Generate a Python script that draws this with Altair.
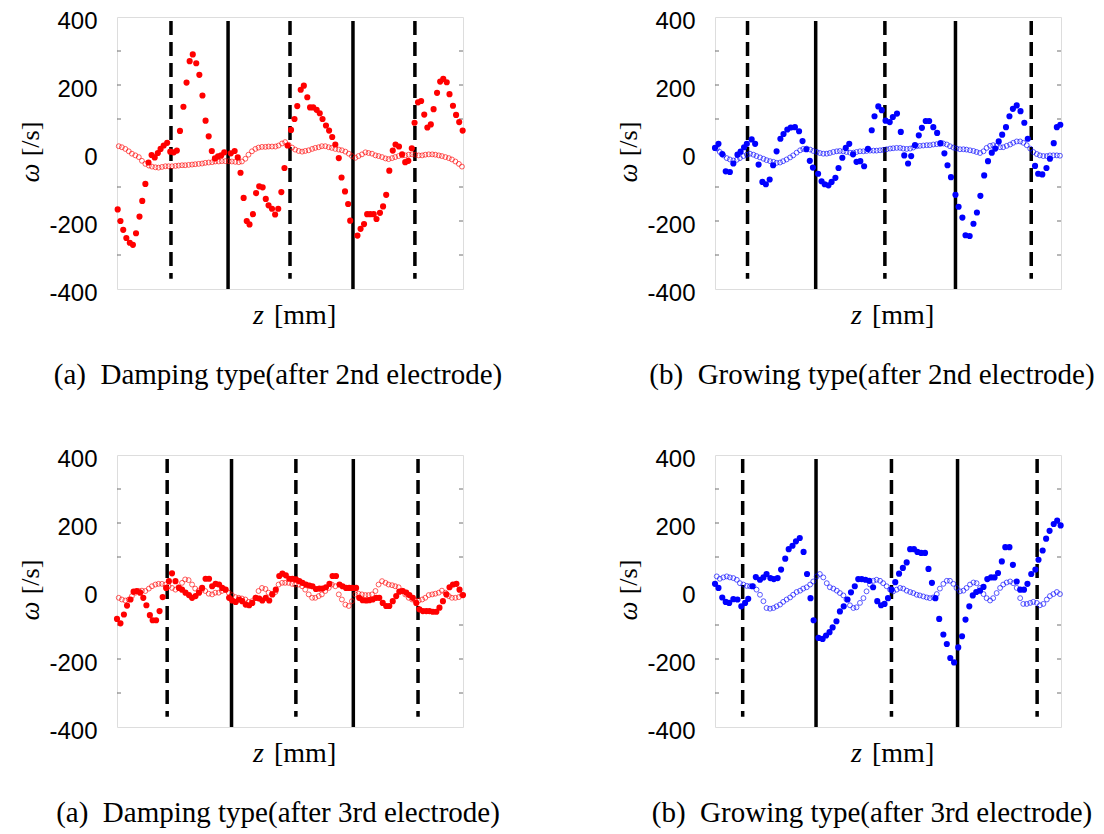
import altair as alt
import pandas as pd

# ---------------- data ----------------
# common z grid for the open-circle series
z_open = [0.5, 1.4, 2.4, 3.4, 4.3, 5.3, 6.3, 7.2, 8.2, 9.2,
          10.1, 11.1, 12.0, 13.0, 14.0, 14.9, 15.9, 16.9, 17.8, 18.8,
          19.7, 20.7, 21.7, 22.6, 23.6, 24.6, 25.5, 26.5, 27.5, 28.4,
          29.4, 30.3, 31.3, 32.3, 33.2, 34.2, 35.2, 36.1, 37.1, 38.0,
          39.0, 40.0, 40.9, 41.9, 42.9, 43.8, 44.8, 45.8, 46.7, 47.7,
          48.6, 49.6, 50.6, 51.5, 52.5, 53.5, 54.4, 55.4, 56.4, 57.3,
          58.3, 59.2, 60.2, 61.2, 62.1, 63.1, 64.1, 65.0, 66.0, 67.0,
          67.9, 68.9, 69.8, 70.8, 71.8, 72.7, 73.7, 74.7, 75.6, 76.6,
          77.6, 78.5, 79.5, 80.4, 81.4, 82.4, 83.3, 84.3, 85.3, 86.2,
          87.2, 88.2, 89.1, 90.1, 91.1, 92.0, 93.0, 93.9, 94.9, 95.9,
          96.8, 97.8, 98.8, 99.7]

# Panel 1: damping, after 2nd electrode
z1_f = [0.2, 1.0, 1.8, 2.7, 3.7, 4.6, 5.5, 6.5, 7.3, 8.2, 9.1, 10.0, 10.9, 11.8, 12.6, 13.5, 14.5, 15.4, 16.4, 17.3,
        18.2, 19.2, 20.1, 21.0, 21.9, 22.9, 23.8, 24.7, 25.6, 26.5, 27.4, 28.3, 29.2, 30.1, 31.0, 32.9, 34.0, 34.9, 35.7, 36.6,
        37.5, 38.3, 39.3, 40.2, 41.1, 42.1, 43.0, 43.8, 44.8, 45.7, 46.6, 47.5, 48.4, 49.3, 50.3, 51.3, 52.1, 53.1, 54.0, 55.0,
        55.8, 56.7, 57.7, 58.6, 59.4, 60.4, 61.3, 62.2, 63.1, 64.1, 64.9, 65.9, 66.8, 67.4, 69.5, 70.4, 71.4, 72.3, 73.2, 74.2,
        75.0, 76.0, 76.9, 77.8, 78.7, 79.7, 80.5, 81.5, 82.4, 83.3, 84.2, 85.2, 86.0, 87.0, 87.9, 88.8, 89.7, 90.7, 91.5, 92.5,
        93.4, 94.3, 95.3, 96.1, 97.1, 98.0, 98.9, 99.9]
w1_f = [-166, -200, -226, -250, -264, -270, -236, -187, -141, -91, -28, -6, -13, 0, 12, 22, 30, 4, 2, 7,
        65, 136, 207, 270, 290, 264, 230, 169, 95, 49, 6, -16, -10, -7, 2, -1, 6, -13, -58, -132,
        -200, -210, -180, -118, -98, -101, -135, -154, -164, -181, -164, -115, -44, 22, 68, 100, 138, 186, 198, 164,
        134, 134, 127, 117, 100, 81, 66, 47, 25, -15, -72, -113, -150, -199, -243, -223, -209, -180, -180, -180,
        -194, -176, -157, -123, -52, 7, 25, 19, -4, -27, -23, 14, 89, 149, 153, 113, 75, 84, 129, 177,
        210, 218, 208, 173, 139, 112, 91, 66]
w1_o = [20, 17, 12, 5, -2, -7, -12, -23, -32, -37, -40, -42, -43, -41, -39, -39, -39, -38, -37, -36,
        -36, -35, -34, -33, -32, -31, -29, -28, -27, -25, -25, -24, -24, -24, -25, -26, -27, -25, -17, -5,
        5, 12, 16, 18, 18, 19, 19, 19, 22, 28, 32, 24, 16, 10, 6, 4, 6, 8, 12, 15,
        17, 20, 20, 17, 15, 12, 10, 8, 4, -2, -9, -14, -9, -4, 2, 0, -2, -7, -9, -12,
        -16, -18, -15, -12, -9, -7, -7, -5, -4, -5, -7, -7, -5, -4, -4, -5, -7, -9, -12, -15,
        -19, -25, -32, -40]
dash1 = [15.6, 50.0, 86.1]
solid1 = [32.1, 68.2]

# Panel 2: growing, after 2nd electrode
z2_f = [0.0, 1.0, 2.1, 3.1, 4.3, 5.3, 6.5, 7.4, 8.4, 9.2, 10.6, 11.6, 12.6, 13.7, 14.7, 15.8, 16.8, 17.8, 18.9, 19.8,
        20.9, 21.9, 23.1, 24.3, 25.3, 26.4, 27.4, 28.3, 29.8, 30.8, 31.7, 32.8, 33.7, 34.8, 35.7, 36.8, 37.8, 38.8, 39.9, 40.9,
        42.0, 43.1, 44.2, 45.3, 46.1, 47.2, 48.2, 49.3, 50.5, 51.4, 52.6, 53.7, 54.7, 55.8, 56.7, 57.8, 58.9, 59.8, 60.9, 61.9,
        63.1, 64.2, 65.2, 66.3, 67.2, 68.2, 69.5, 70.4, 71.5, 72.4, 73.6, 74.7, 75.7, 76.7, 77.8, 78.9, 80.0, 81.0, 82.0, 83.0,
        84.1, 85.1, 86.1, 87.2, 88.3, 89.4, 90.4, 92.5, 93.4, 94.6, 95.8, 96.8, 97.9, 98.8, 99.8]
w2_f = [15, 27, -3, -54, -56, -31, -5, 4, 17, 27, 40, 27, -34, -85, -92, -78, -36, 5, 42, 56,
        69, 75, 76, 64, 35, 11, -23, -43, -61, -83, -92, -95, -85, -73, -44, -14, 15, 27, -4, -26,
        -24, -39, 12, 67, 108, 137, 126, 95, 91, 106, 116, 62, -7, -31, -9, 23, 52, 74, 94, 94,
        76, 59, 29, -1, -36, -71, -123, -158, -190, -242, -244, -208, -175, -126, -66, -24, 1, 13, 34, 54,
        76, 108, 130, 140, 123, 89, 42, -38, -61, -63, -44, -17, 29, 76, 83]
w2_o = [13, 3, -7, -15, -19, -22, -20, -15, -9, -5, -2, -5, -9, -13, -17, -21, -24, -26, -29, -28,
        -24, -19, -13, -7, 1, 8, 12, 13, 10, 6, 3, 0, -2, -2, 0, 3, 5, 6, 5, 3,
        1, 1, 3, 5, 5, 6, 7, 7, 7, 8, 9, 11, 13, 14, 15, 15, 13, 12, 13, 16,
        20, 21, 22, 23, 23, 25, 26, 27, 28, 25, 20, 16, 13, 11, 11, 10, 8, 6, 3, 0,
        5, 15, 21, 23, 21, 17, 17, 21, 25, 30, 34, 34, 30, 23, 13, 3, -3, -7, -9, -9,
        -7, -7, -7, -8]
dash2 = [9.4, 49.1, 91.4]
solid2 = [29.1, 69.5]

# Panel 3: damping, after 3rd electrode
z3_f = [0.0, 1.0, 2.0, 2.9, 3.9, 4.8, 5.7, 6.7, 7.6, 8.5, 9.5, 10.3, 11.3, 12.3, 13.2, 14.2, 15.0, 15.9, 16.9, 17.9,
        18.8, 19.8, 20.8, 21.7, 22.7, 23.7, 24.6, 25.6, 26.6, 27.5, 28.5, 29.5, 30.4, 31.4, 32.4, 33.3, 34.3, 35.3, 36.2, 37.2,
        38.2, 39.1, 40.1, 41.1, 42.0, 43.0, 44.0, 44.9, 45.9, 46.9, 47.8, 48.8, 49.8, 50.7, 51.7, 52.7, 53.6, 54.6, 55.6, 56.5,
        57.5, 58.5, 59.4, 60.4, 61.4, 62.3, 63.3, 64.3, 65.2, 66.2, 67.1, 68.1, 69.1, 70.0, 71.0, 72.0, 72.9, 73.9, 74.9, 75.8,
        76.8, 77.8, 78.7, 79.7, 80.7, 81.6, 82.6, 83.6, 84.5, 85.5, 86.5, 87.4, 88.4, 89.4, 90.3, 91.3, 92.3, 93.2, 94.2, 95.2,
        96.1, 97.1, 98.1, 99.0, 100.0]
w3_f = [-82, -95, -69, -43, -25, -2, 0, -5, -20, -42, -71, -86, -86, -59, -18, 9, 29, 52, 29, 9,
        4, -5, -12, -20, -15, -5, 9, 36, 36, 14, 21, 19, 9, 4, -20, -28, -32, -25, -30, -40,
        -42, -35, -20, -22, -28, -20, -28, -10, 4, 44, 51, 46, 36, 36, 34, 29, 24, 19, 16, 14,
        6, 7, 7, 11, 21, 44, 44, 19, 14, 9, 9, 9, 9, -20, -27, -28, -27, -25, -20, -20,
        -35, -44, -44, -30, -15, -2, 0, -5, -12, -20, -35, -54, -59, -59, -59, -61, -61, -49, -30, -10,
        11, 19, 21, 4, -12]
w3_o = [-20, -25, -28, -25, -15, -5, 0, 1, 0, 7, 14, 19, 21, 21, 19, 14, 9, 4, 11, 24,
        34, 32, 19, 7, 1, 4, 0, -8, -10, -5, -5, 0, 4, -5, -12, -18, -20, -22, -25, -32,
        -30, -20, 0, 9, 6, -5, -8, -3, 19, 24, 24, 24, 21, 19, 19, 14, 4, -10, -20, -20,
        -15, -10, 0, 9, 19, 14, -10, -25, -40, -44, -30, -10, -8, -10, -12, -12, -10, 0, 19, 29,
        24, 19, 17, 14, 11, 1, -10, -20, -25, -28, -28, -25, -20, -12, -10, -8, -5, 1, -5, -15,
        -20, -20, -18, -12]
dash3 = [14.5, 51.7, 87.0]
solid3 = [33.1, 68.3]

# Panel 4: growing, after 3rd electrode
z4_f = [0.0, 1.0, 2.1, 3.1, 4.1, 5.3, 6.5, 7.6, 8.7, 9.6, 10.8, 11.8, 13.0, 14.0, 14.9, 16.0, 17.0, 18.1, 19.1, 20.3,
        21.3, 22.4, 23.4, 24.5, 25.6, 26.6, 27.6, 28.5, 29.9, 31.1, 32.1, 33.1, 34.0, 35.1, 36.1, 37.2, 38.3, 39.3, 40.4, 41.4,
        42.4, 43.5, 44.6, 45.7, 46.9, 48.0, 49.0, 50.0, 51.0, 52.1, 53.2, 54.3, 55.4, 56.4, 57.5, 58.5, 59.6, 60.7, 61.7, 62.7,
        63.7, 64.8, 66.0, 67.0, 68.0, 69.1, 70.3, 71.4, 72.4, 73.5, 74.5, 75.5, 76.6, 77.6, 78.7, 79.8, 80.8, 81.8, 82.9, 83.9,
        85.1, 86.1, 87.2, 88.2, 89.3, 90.3, 91.4, 92.6, 93.5, 94.7, 95.7, 96.7, 97.9, 98.9, 99.9]
w4_f = [21, 9, -19, -32, -35, -24, -25, -45, -35, -23, 14, 41, 33, 40, 50, 38, 35, 38, 63, 95,
        123, 133, 146, 156, 115, 50, -21, -86, -138, -141, -131, -121, -107, -89, -60, -45, -25, -4, 14, 35,
        35, 33, 30, 11, -30, -42, -38, -21, 4, 26, 51, 68, 84, 123, 123, 115, 112, 112, 65, 24,
        -21, -82, -128, -156, -197, -210, -166, -133, -84, -45, -13, -3, 1, 12, 35, 40, 40, 53, 87, 129,
        129, 77, 28, 4, 4, 21, 50, 63, 92, 119, 154, 177, 197, 207, 193]
w4_o = [43, 36, 40, 43, 40, 38, 33, 23, 19, 15, 14, 14, 4, -11, -30, -50, -52, -50, -45, -40,
        -32, -25, -19, -11, -3, 1, 7, 11, 19, 28, 43, 50, 40, 23, 11, 7, 1, -6, -13, -25,
        -42, -50, -48, -35, -21, -1, 19, 30, 33, 30, 23, 14, 4, -1, 4, 9, 7, 1, -3, -6,
        -11, -13, -16, -19, -21, -19, -9, 7, 21, 30, 30, 21, 9, -1, 1, 9, 19, 25, 23, 9,
        -9, -21, -28, -21, -6, 9, 19, 25, 28, 23, 9, -21, -38, -38, -35, -32, -35, -42, -38, -25,
        -15, -9, -3, -9]
dash4 = [8.0, 51.0, 93.1]
solid4 = [29.2, 70.1]

line_top = 388
dash_bottom = -370
solid_bottom = -400

y_ticks = [-400, -200, 0, 200, 400]
minor_ticks = [-300, -200, -100, 100, 200, 300]

captions = ["(a)\u00a0 Damping type(after 2nd electrode)",
            "(b)\u00a0 Growing type(after 2nd electrode)",
            "(a)\u00a0 Damping type(after 3rd electrode)",
            "(b)\u00a0 Growing type(after 3rd electrode)"]

# ---------------- chart ----------------
W, H = 346, 272
RED, BLUE = "#ff0000", "#0000ff"
SERIF = "Liberation Serif"

xs = alt.Scale(domain=[0, 100], nice=False, zero=False)
ys = alt.Scale(domain=[-400, 400], nice=False, zero=False)
yaxis = alt.Axis(values=y_ticks, title=None, ticks=False, domain=False, grid=False,
                 labelFont="Liberation Sans", labelFontSize=24, labelColor="black",
                 labelPadding=20, labelOffset=4, labelExpr="'' + datum.value")


def text_layer(txt, x, y, size, italic=False, angle=0, align="center"):
    kw = dict(text=txt, font=SERIF, fontSize=size, align=align, baseline="middle",
              color="black")
    if italic:
        kw["fontStyle"] = "italic"
    if angle:
        kw["angle"] = angle
    return alt.Chart(pd.DataFrame({"a": [0]})).mark_text(**kw).encode(
        x=alt.value(x), y=alt.value(y))


def panel(zf, wf, wo, color, dashed, solid, caption, cap_x):
    n = min(len(zf), len(wf))
    df_f = pd.DataFrame({"z": zf[:n], "w": wf[:n]})
    m = min(len(z_open), len(wo))
    df_o = pd.DataFrame({"z": z_open[:m], "w": wo[:m]})
    df_d = pd.DataFrame({"z": dashed, "top": [line_top] * len(dashed), "bot": [dash_bottom] * len(dashed)})
    df_s = pd.DataFrame({"z": solid, "top": [line_top] * len(solid), "bot": [solid_bottom] * len(solid)})
    df_t = pd.DataFrame({"w": minor_ticks})

    dashed_l = alt.Chart(df_d).mark_rule(color="black", strokeWidth=3.5, strokeDash=[14, 7]).encode(
        x=alt.X("z:Q", scale=xs, axis=None),
        y=alt.Y("top:Q", scale=ys, axis=yaxis), y2="bot:Q")
    solid_l = alt.Chart(df_s).mark_rule(color="black", strokeWidth=3.5).encode(
        x=alt.X("z:Q", scale=xs, axis=None),
        y=alt.Y("top:Q", scale=ys, axis=yaxis), y2="bot:Q")
    tl = alt.Chart(df_t).mark_rule(color="#707070", strokeWidth=1).encode(
        y=alt.Y("w:Q", scale=ys, axis=yaxis), x=alt.value(0), x2=alt.value(4))
    tr = alt.Chart(df_t).mark_rule(color="#707070", strokeWidth=1).encode(
        y=alt.Y("w:Q", scale=ys, axis=yaxis), x=alt.value(W - 4), x2=alt.value(W))
    opn = alt.Chart(df_o).mark_point(shape="circle", filled=False, size=24, strokeWidth=0.8,
                                     color=color, opacity=0.8).encode(
        x=alt.X("z:Q", scale=xs, axis=None), y=alt.Y("w:Q", scale=ys, axis=yaxis))
    fil = alt.Chart(df_f).mark_circle(size=38, color=color, opacity=1).encode(
        x=alt.X("z:Q", scale=xs, axis=None), y=alt.Y("w:Q", scale=ys, axis=yaxis))

    texts = [
        text_layer("\u03c9", -86, 156, 27, italic=True, angle=270),
        text_layer("[/s]", -86, 122, 26, angle=270),
        text_layer("z", 147, H + 27, 28, italic=True, align="right"),
        text_layer("[mm]", 157, H + 27, 28, align="left"),
        text_layer(caption, cap_x, H + 86, 29),
    ]
    return alt.layer(dashed_l, solid_l, tl, tr, opn, fil, *texts).properties(width=W, height=H)


p1 = panel(z1_f, w1_f, w1_o, RED, dash1, solid1, captions[0], 161)
p2 = panel(z2_f, w2_f, w2_o, BLUE, dash2, solid2, captions[1], 157)
p3 = panel(z3_f, w3_f, w3_o, RED, dash3, solid3, captions[2], 161)
p4 = panel(z4_f, w4_f, w4_o, BLUE, dash4, solid4, captions[3], 157)

chart = alt.concat(p1, p2, p3, p4, columns=2, spacing={"row": 166, "column": 252},
                   bounds="flush").properties(
    padding={"left": 8, "top": 0, "right": 0, "bottom": 0}
).configure_view(stroke="#6e6e6e", strokeWidth=1.5).configure(background="white")

chart.save("out.html", embed_options={"renderer": "svg", "actions": False})
